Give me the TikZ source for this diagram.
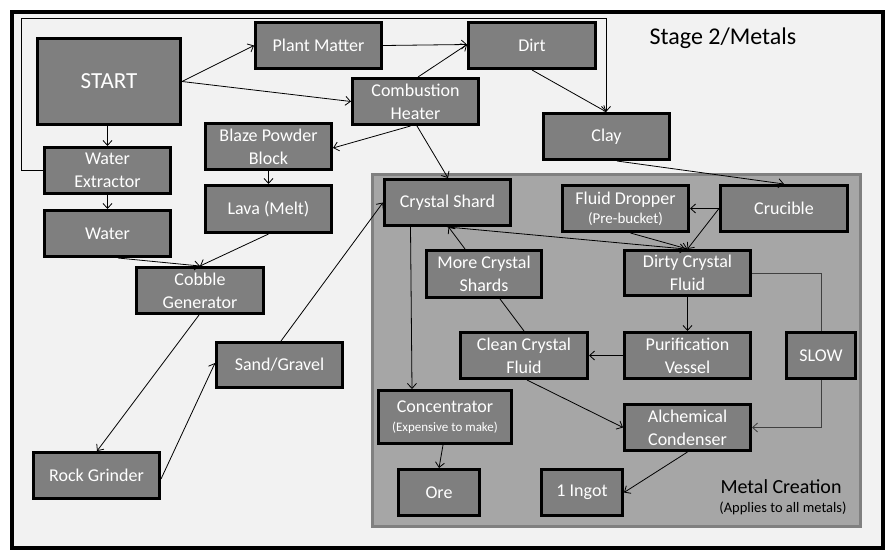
\documentclass[tikz,border=0pt]{standalone}
\usepackage{fontspec}
\setmainfont{Carlito}
\usetikzlibrary{arrows.meta}
\definecolor{boxfill}{HTML}{7F7F7F}
\definecolor{panelfill}{HTML}{A6A6A6}
\definecolor{panelline}{HTML}{808080}
\definecolor{pagefill}{HTML}{F2F2F2}
\definecolor{slowline}{HTML}{404040}
\tikzset{
  box/.style={draw=black, line width=3pt, fill=boxfill, text=white, inner sep=0pt,
    align=center, font=\fontsize{18}{23}\selectfont},
  sz/.style 2 args={minimum width=#1pt, minimum height=#2pt},
  arr/.style={-{Straight Barb[length=5pt,width=9pt]}, line width=0.8pt},
  plain/.style={line width=0.8pt}
}
\begin{document}
\begin{tikzpicture}[x=1pt,y=-1pt]
\useasboundingbox (0,0) rectangle (896,555);
\fill[white] (0,0) rectangle (896,555);
% outer frame
\draw[line width=3.5pt, fill=pagefill] (12,12) rectangle (883,548);
% panel
\draw[line width=3pt, draw=panelline, fill=panelfill] (372.5,174.5) rectangle (860.5,526.5);

\node[font=\fontsize{24}{28}\selectfont] (stage) at (723,38.5) {Stage 2/Metals};
\node[font=\fontsize{20}{22}\selectfont, inner sep=0pt] (metal) at (781,487) {Metal Creation};
\node[font=\fontsize{14.5}{16}\selectfont, inner sep=0pt] (metalsub) at (783,508) {(Applies to all metals)};

% boxes
\node[box, sz={143}{86}, font=\fontsize{23}{26}\selectfont] (start) at (109,81.5) {START};
\node[box, sz={126}{46}] (plant) at (318.5,45.5) {Plant Matter};
\node[box, sz={126}{46}] (comb) at (415.5,101.5) {Combustion\\Heater};
\node[box, sz={127}{46}] (dirt) at (532,45.5) {Dirt};
\node[box, sz={126}{46}] (clay) at (606.5,136.5) {Clay};
\node[box, sz={126}{46}] (wext) at (107.5,170.5) {Water\\Extractor};
\node[box, sz={126}{46}] (water) at (107.5,233.5) {Water};
\node[box, sz={126}{46}] (blaze) at (268.5,146.5) {Blaze Powder\\Block};
\node[box, sz={126}{47}] (lava) at (268.5,209) {Lava (Melt)};
\node[box, sz={127}{46}] (cobble) at (200,290.5) {Cobble\\Generator};
\node[box, sz={126}{45}] (sand) at (279.5,365) {Sand/Gravel};
\node[box, sz={126}{46}] (rock) at (96.5,475.5) {Rock Grinder};
\node[box, sz={126}{46}] (shard) at (447.5,202.5) {Crystal Shard};
\node[box, sz={126}{46}] (dropper) at (625.5,208.5) {Fluid Dropper\\[-4pt]{\fontsize{15}{17}\selectfont (Pre-bucket)}};
\node[box, sz={127}{46}] (crucible) at (784,208.5) {Crucible};
\node[box, sz={115}{47}] (more) at (484,274) {More Crystal\\Shards};
\node[box, sz={126}{45}] (dirty) at (687.5,273) {Dirty Crystal\\Fluid};
\node[box, sz={127}{46}] (clean) at (524,355.5) {Clean Crystal\\Fluid};
\node[box, sz={126}{46}] (puri) at (687.5,355.5) {Purification\\Vessel};
\node[box, sz={69}{46}] (slow) at (821,355.5) {SLOW};
\node[box, sz={133}{53}] (conc) at (445,417) {Concentrator\\[-4pt]{\fontsize{13}{15}\selectfont (Expensive to make)}};
\node[box, sz={126}{46}] (alch) at (687.5,427.5) {Alchemical\\Condenser};
\node[box, sz={81}{46}] (ore) at (439,492.5) {Ore};
\node[box, sz={81}{46}] (ingot) at (582,492.5) {1 Ingot};

% loop coordinates
\coordinate (loopL) at (21,170.5);
\coordinate (loopT) at (606,18);

% connectors
\draw[arr] (start.east) -- (plant.west);
\draw[arr] (start.east) -- (comb.west);
\draw[arr] (plant.east) -- ([yshift=1]dirt.west);
\draw[arr] ([xshift=2.5]comb.north) -- ([yshift=1]dirt.west);
\draw[arr] (dirt.south) -- (clay.north);
\draw[arr] (wext.west) -- (loopL) |- (loopT) -- (clay.north -| loopT);
\draw[arr] (wext.north |- start.south) -- (wext.north);
\draw[arr] (wext.south) -- (water.north);
\draw[arr] ([xshift=-5]comb.south) -- ([yshift=-1.5]blaze.east);
\draw[arr] ([xshift=1.5]comb.south) -- ([xshift=0.5]shard.north);
\draw[arr] (blaze.south) -- (lava.north);
\draw[arr] (lava.south) -- (cobble.north);
\draw[arr] ([xshift=10.5]water.south) -- (cobble.north);
\draw[arr] ([xshift=-1]cobble.south) -- ([xshift=0.5]rock.north);
\draw[arr] ([yshift=-3.5]rock.east) -- ([yshift=2]sand.west);
\draw[arr] ([xshift=1.5]sand.north) -- (shard.west);
\draw[arr] ([xshift=10.5]clay.south) -- (crucible.north);
\draw[arr] (crucible.west) -- (dropper.east);
\draw[arr] (crucible.west) -- (dirty.north);
\draw[arr] ([xshift=5]dropper.south) -- (dirty.north);
\draw[arr] (shard.south) -- ([xshift=-2]dirty.north);
\draw[plain] (clean.north) -- ([xshift=16]more.south);
\draw[arr] ([xshift=-19]more.north) -- ([xshift=1]shard.south);
\draw[arr] (dirty.south) -- (puri.north);
\draw[arr] (puri.west) -- (clean.east);
\draw[arr] ([xshift=3]clean.south) -- (alch.west);
\draw[plain, draw=slowline] (dirty.east) -| (slow.north);
\draw[arr, draw=slowline] (slow.south) |- (alch.east);
\draw[arr] ([xshift=-37]shard.south) -- ([xshift=-33]conc.north);
\draw[arr] ([xshift=-2]conc.south) -- (ore.north);
\draw[arr] (alch.south) -- (ingot.east);
\end{tikzpicture}
\end{document}
